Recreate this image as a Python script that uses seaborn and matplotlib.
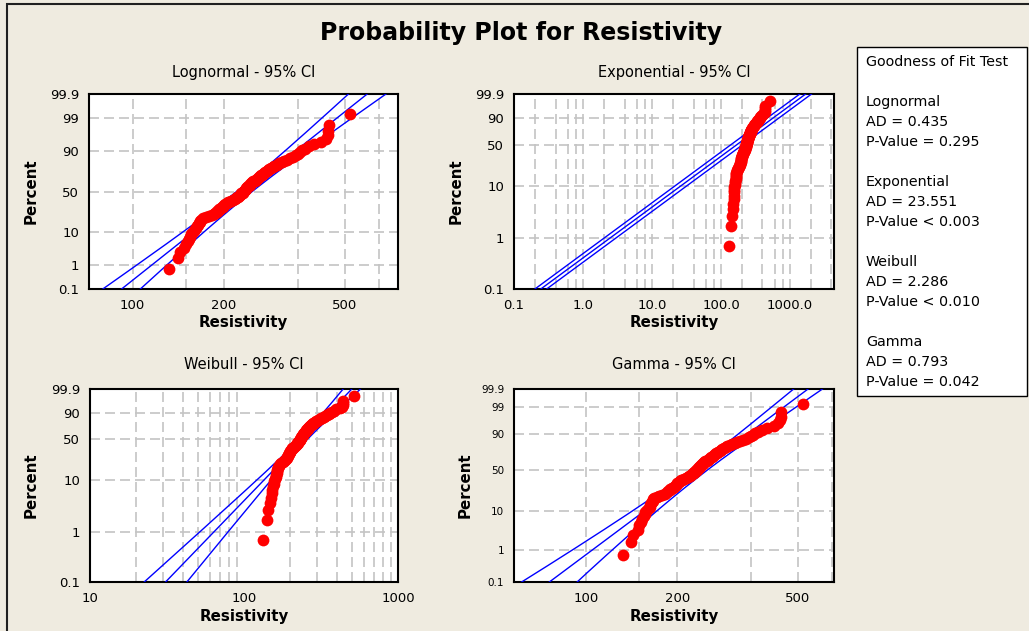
import math
from statistics import NormalDist
import numpy as np
import pandas as pd
import seaborn as sns
import matplotlib.pyplot as plt
from matplotlib.patches import Rectangle
from matplotlib.ticker import FixedLocator, FixedFormatter, NullLocator, NullFormatter

sns.set_style("white")
plt.rcParams["font.family"] = ["DejaVu Sans"]
plt.rcParams.update({"text.color": "black", "axes.labelcolor": "black",
                     "xtick.color": "black", "ytick.color": "black"})

# resistivity sample (n = 100)
resistivity = [132, 141, 143, 148, 150, 152, 153, 155, 156, 157,
               159, 161, 162, 163, 164, 165, 166, 166, 168, 171,
               174, 178, 182, 185, 187, 189, 190, 192, 193, 195,
               196, 198, 199, 200, 202, 204, 206, 208, 211, 214,
               217, 219, 221, 222, 224, 225, 227, 228, 230, 231,
               232, 234, 235, 236, 237, 238, 240, 241, 243, 244,
               246, 248, 250, 252, 254, 256, 258, 260, 262, 264,
               266, 268, 270, 273, 276, 279, 282, 285, 289, 293,
               298, 304, 310, 315, 322, 330, 338, 345, 350, 356,
               362, 370, 382, 395, 418, 432, 439, 440, 442, 520]

gof_lines = ["Goodness of Fit Test", "",
             "Lognormal", "AD = 0.435", "P-Value = 0.295", "",
             "Exponential", "AD = 23.551", "P-Value < 0.003", "",
             "Weibull", "AD = 2.286", "P-Value < 0.010", "",
             "Gamma", "AD = 0.793", "P-Value = 0.042"]

pct_ticks_full = [0.1, 1, 10, 50, 90, 99, 99.9]
pct_ticks_short = [0.1, 1, 10, 50, 90, 99.9]

W, H = 1029, 631
BG = "#EFEBE0"
RED = "#FF0000"
BLUE = "#0000FF"
GRID = "#C4C4C4"

nd = NormalDist()
_ppf = np.vectorize(lambda p: nd.inv_cdf(p) if 0 < p < 1 else np.nan, otypes=[float])
_cdf = np.vectorize(lambda z: nd.cdf(z) if np.isfinite(z) else np.nan, otypes=[float])


def clip_p(pct):
    return np.clip(np.asarray(pct, float) / 100.0, 1e-9, 1 - 1e-9)


# ---- axis scales -------------------------------------------------------
def normal_fwd(pct):
    return _ppf(clip_p(pct))


def normal_inv(z):
    return _cdf(np.asarray(z, float)) * 100


def sev_fwd(pct):
    p = clip_p(pct)
    return np.log(-np.log(1 - p))


def sev_inv(y):
    return (1 - np.exp(-np.exp(np.asarray(y, float)))) * 100


def gamma_lnq(pct, k):
    z = _ppf(clip_p(pct))
    return np.log(k) + 3 * np.log(1 - 1 / (9 * k) + z / (3 * np.sqrt(k)))


def gamma_lnq_inv(y, k):
    c = np.exp((np.asarray(y, float) - np.log(k)) / 3)
    z = (c - 1 + 1 / (9 * k)) * 3 * np.sqrt(k)
    return _cdf(z) * 100


# ---- data and fits -------------------------------------------------------
x = np.array(sorted(resistivity), float)
n = len(x)
pct = (np.arange(1, n + 1) - 0.3) / (n + 0.4) * 100
lx = np.log(x)
zc = 1.959964
pgrid = normal_inv(np.linspace(-3.6, 3.6, 300))
points = pd.DataFrame({"Resistivity": x, "Percent": pct})


def band_frame(center, half):
    frames = []
    for name, vals in [("fit", center), ("lo", center - half), ("hi", center + half)]:
        frames.append(pd.DataFrame({"Resistivity": np.exp(vals), "Percent": pgrid, "line": name}))
    return pd.concat(frames, ignore_index=True)


# lognormal
mu, sig = lx.mean(), lx.std()
zg = normal_fwd(pgrid)
logn_band = band_frame(mu + zg * sig, zc * np.sqrt(sig ** 2 / n * (1 + zg ** 2 / 2)))

# exponential
theta_e = x.mean()
wg = sev_fwd(pgrid)
expo_band = band_frame(np.log(theta_e) + wg, np.full_like(wg, zc / np.sqrt(n)))

# weibull (ML)
xs = x / x.max()


def wb_score(b):
    w = xs ** b
    return (w * lx).sum() / w.sum() - 1 / b - lx.mean()


lo_b, hi_b = 0.05, 100.0
for _ in range(200):
    mid = 0.5 * (lo_b + hi_b)
    if wb_score(mid) > 0:
        hi_b = mid
    else:
        lo_b = mid
beta = 0.5 * (lo_b + hi_b)
eta = np.mean(x ** beta) ** (1 / beta)
bsev = 1 / beta
wb_var = bsev ** 2 / n * (1.1087 + 2 * 0.2570 * wg + 0.6079 * wg ** 2)
weib_band = band_frame(np.log(eta) + wg * bsev, zc * np.sqrt(wb_var))

# gamma (ML)
s = np.log(x.mean()) - lx.mean()
k = (3 - s + np.sqrt((s - 3) ** 2 + 24 * s)) / (12 * s)
for _ in range(20):
    dig = np.log(k) - 1 / (2 * k) - 1 / (12 * k ** 2) + 1 / (120 * k ** 4) - 1 / (252 * k ** 6)
    trig = 1 / k + 1 / (2 * k ** 2) + 1 / (6 * k ** 3) - 1 / (30 * k ** 5) + 1 / (42 * k ** 7)
    k -= (np.log(k) - dig - s) / (1 / k - trig)
trig = 1 / k + 1 / (2 * k ** 2) + 1 / (6 * k ** 3) - 1 / (30 * k ** 5) + 1 / (42 * k ** 7)
theta_g = x.mean() / k
cov = np.linalg.inv(n * np.array([[trig, 1 / theta_g], [1 / theta_g, k / theta_g ** 2]]))
lnq = gamma_lnq(pgrid, k)
dk = (gamma_lnq(pgrid, k + 1e-4) - gamma_lnq(pgrid, k - 1e-4)) / 2e-4
g_var = dk ** 2 * cov[0, 0] + 2 * dk / theta_g * cov[0, 1] + cov[1, 1] / theta_g ** 2
gamma_band = band_frame(np.log(theta_g) + lnq, zc * np.sqrt(g_var))

# ---- figure ----------------------------------------------------------------
fig = plt.figure(figsize=(W / 100, H / 100), dpi=100, facecolor=BG)

panels = [
    dict(title="Lognormal - 95% CI", box=(89, 94, 398, 289), band=logn_band,
         scale=(normal_fwd, normal_inv), xlim=(71.8, 748), xticks=[100, 200, 500],
         xlabels=["100", "200", "500"], xgrid=[100, 150, 200, 350, 500, 650],
         yticks=pct_ticks_full, yfs=9.5, ylab_off=58, title_off=21),
    dict(title="Exponential - 95% CI", box=(514, 94, 834, 289), band=expo_band,
         scale=(sev_fwd, sev_inv), xlim=(0.1, 4350), xticks=[0.1, 1, 10, 100, 1000],
         xlabels=["0.1", "1.0", "10.0", "100.0", "1000.0"],
         xgrid=[m * 10.0 ** e for e in range(-1, 4) for m in (1, 2, 4, 6, 8)],
         yticks=pct_ticks_short, yfs=9.5, ylab_off=58, title_off=22),
    dict(title="Weibull - 95% CI", box=(90, 389, 398, 582), band=weib_band,
         scale=(sev_fwd, sev_inv), xlim=(10, 1000), xticks=[10, 100, 1000],
         xlabels=["10", "100", "1000"],
         xgrid=[m * 10.0 ** e for e in (1, 2) for m in range(2, 10)],
         yticks=pct_ticks_short, yfs=9.5, ylab_off=59, title_off=24),
    dict(title="Gamma - 95% CI", box=(514, 389, 834, 582), band=gamma_band,
         scale=(lambda v: gamma_lnq(v, k), lambda v: gamma_lnq_inv(v, k)),
         xlim=(57.7, 660), xticks=[100, 200, 500], xlabels=["100", "200", "500"],
         xgrid=[100, 150, 200, 350, 500, 650],
         yticks=pct_ticks_full, yfs=7.5, ylab_off=49, title_off=24),
]

for pnl in panels:
    l, t, r, b = pnl["box"]
    wpx, hpx = r - l, b - t
    ax = fig.add_axes([l / W, 1 - b / H, wpx / W, hpx / H])
    ax.set_facecolor("white")
    ax.set_xscale("log")
    ax.set_yscale("function", functions=pnl["scale"])

    sns.lineplot(data=pnl["band"], x="Resistivity", y="Percent", units="line",
                 estimator=None, sort=False, color=BLUE, linewidth=1.0, ax=ax, zorder=3)
    sns.scatterplot(data=points, x="Resistivity", y="Percent", color=RED, s=72,
                    linewidth=0, ax=ax, zorder=4, clip_on=True)

    ax.set_xlim(*pnl["xlim"])
    ax.set_ylim(0.1, 99.9)
    ax.xaxis.set_major_locator(FixedLocator(pnl["xticks"]))
    ax.xaxis.set_major_formatter(FixedFormatter(pnl["xlabels"]))
    ax.xaxis.set_minor_locator(FixedLocator(pnl["xgrid"]))
    ax.xaxis.set_minor_formatter(NullFormatter())
    ax.xaxis.remove_overlapping_locs = False
    ax.yaxis.set_major_locator(FixedLocator(pnl["yticks"]))
    ax.yaxis.set_major_formatter(FixedFormatter([f"{v:g}" for v in pnl["yticks"]]))
    ax.yaxis.set_minor_locator(NullLocator())
    ax.yaxis.set_minor_formatter(NullFormatter())

    ax.grid(False)
    ax.grid(True, which="minor", axis="x", color=GRID, linestyle=(0, (6, 3)), linewidth=1.2, zorder=0)
    ax.grid(True, which="major", axis="y", color=GRID, linestyle=(0, (6, 3)), linewidth=1.2, zorder=0)
    ax.set_axisbelow(True)

    ax.tick_params(which="major", direction="out", length=3, width=1.2, color="black", pad=4)
    ax.tick_params(which="minor", length=0)
    ax.tick_params(axis="x", labelsize=9.5)
    ax.tick_params(axis="y", labelsize=pnl["yfs"])
    for sp in ax.spines.values():
        sp.set_visible(True)
        sp.set_color("black")
        sp.set_linewidth(1.5)

    ax.set_xlabel("Resistivity", fontsize=10.8, fontweight="bold", va="center")
    ax.xaxis.set_label_coords(0.5, -34 / hpx)
    ax.set_ylabel("Percent", fontsize=10.8, fontweight="bold", va="center")
    ax.yaxis.set_label_coords(-pnl["ylab_off"] / wpx, 0.5)
    ax.text(0.5, 1 + pnl["title_off"] / hpx, pnl["title"], transform=ax.transAxes,
            ha="center", va="center", fontsize=10.5)

fig.text(521 / W, 1 - 33 / H, "Probability Plot for Resistivity", ha="center",
         va="center", fontsize=17, fontweight="bold")

# outer frame
fig.add_artist(Rectangle((7 / W, -0.1), 1.2, 1.1 - 4 / H, transform=fig.transFigure,
                         fill=False, edgecolor="#202020", linewidth=1.5))

# goodness-of-fit box
fig.add_artist(Rectangle((857 / W, 1 - 396 / H), (1027 - 857) / W, (396 - 47) / H,
                         transform=fig.transFigure, facecolor="white",
                         edgecolor="black", linewidth=1.0))
for i, line in enumerate(gof_lines):
    if line:
        fig.text(866 / W, 1 - (62 + 20 * i) / H, line, ha="left", va="center", fontsize=10.3)

fig.savefig("out.png", dpi=100, facecolor=BG)
